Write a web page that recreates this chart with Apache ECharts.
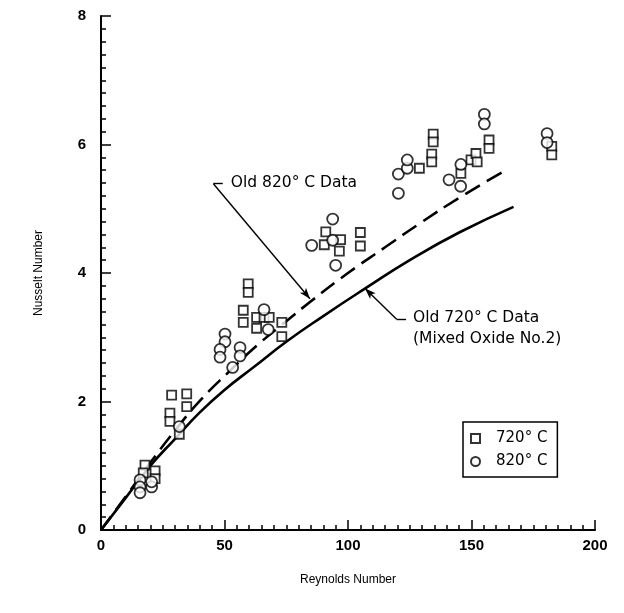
<!DOCTYPE html>
<html>
<head>
<meta charset="utf-8">
<script src="https://cdn.jsdelivr.net/npm/echarts@6/dist/echarts.min.js"></script>
<style>
  html, body { margin: 0; padding: 0; background: #fff; }
  #chart { width: 624px; height: 613px; }
</style>
</head>
<body>
<div id="chart"></div>
<script>
// Nusselt number versus Reynolds number, 720 °C and 820 °C test data
const xTicks = [0, 50, 100, 150, 200];
const yTicks = [0, 2, 4, 6, 8];
const xMinorStep = 5;
const yMinorStep = 0.2;

// 720 °C measurements (squares)
const data720 = [
  [17.8, 1.01], [17.1, 0.89], [21.9, 0.92], [21.9, 0.80],
  [28.6, 2.10], [34.7, 2.12], [34.7, 1.92], [27.9, 1.82], [27.9, 1.69], [31.7, 1.49],
  [59.6, 3.83], [59.6, 3.70], [57.6, 3.42], [57.6, 3.23], [63.0, 3.31], [66.0, 3.31],
  [68.1, 3.31], [63.0, 3.14], [73.2, 3.23], [73.2, 3.01],
  [91.0, 4.64], [90.4, 4.44], [97.0, 4.52], [96.5, 4.34], [105.0, 4.63], [105.0, 4.42],
  [128.9, 5.63], [134.5, 6.16], [134.5, 6.04], [133.9, 5.85], [133.9, 5.73],
  [145.7, 5.55], [149.8, 5.76], [151.8, 5.86], [152.3, 5.73], [157.1, 6.07], [157.1, 5.94],
  [182.5, 5.97], [182.5, 5.84]
];

// 820 °C measurements (circles)
const data820 = [
  [15.8, 0.78], [15.8, 0.67], [15.8, 0.58], [20.5, 0.67], [20.5, 0.75],
  [31.7, 1.61],
  [66.0, 3.43], [67.7, 3.12], [50.2, 3.05], [50.2, 2.93], [48.2, 2.81], [48.2, 2.69],
  [56.3, 2.84], [56.3, 2.71], [53.3, 2.53],
  [93.8, 4.84], [85.3, 4.43], [93.8, 4.51], [95.0, 4.12],
  [120.4, 5.54], [124.0, 5.63], [120.4, 5.24], [124.0, 5.76],
  [145.7, 5.69], [140.9, 5.45], [145.6, 5.35], [155.2, 6.47], [155.2, 6.32],
  [180.6, 6.17], [180.6, 6.03]
];

// Earlier correlations
const old720 = [
  [0, 0], [10, 0.5], [20, 1.0], [30, 1.42], [40, 1.83], [50, 2.18], [62, 2.54],
  [75, 2.93], [90, 3.33], [107, 3.76], [125, 4.2], [145, 4.63], [167, 5.03]
];
const old820 = [
  [0, 0], [10, 0.52], [20, 1.05], [30, 1.55], [40, 2.01], [52, 2.47], [64, 2.9],
  [75, 3.25], [85, 3.56], [100, 4.0], [115, 4.4], [129, 4.77], [145, 5.17], [163, 5.58]
];

// Callout leaders (data coordinates): corner, short tail end, arrow tip
const lead820 = { corner: [45.5, 5.39], tail: [49.3, 5.39], tip: [84.6, 3.6] };
const lead720 = { corner: [119.7, 3.28], tail: [123.5, 3.28], tip: [106.9, 3.76] };

const label820 = ['Old 820° C Data'];
const label720 = ['Old 720° C Data', '(Mixed Oxide No.2)'];

const chart = echarts.init(document.getElementById('chart'), null, { renderer: 'canvas' });

const tickFont = { fontFamily: 'Liberation Sans', fontWeight: 'bold', fontSize: 15, color: '#000' };
const nameFont = { fontFamily: 'Liberation Sans', fontSize: 12, color: '#000' };
const annFont = 'DejaVu Sans';

const leaderStyle = { color: '#000', width: 1.4, type: 'solid' };

function leader(l) {
  return [
    [{ coord: l.corner, symbol: 'none' }, { coord: l.tip, symbol: 'arrow', symbolSize: [6, 11] }],
    [{ coord: l.corner, symbol: 'none' }, { coord: l.tail, symbol: 'none' }]
  ];
}

// Companion axis that only carries the short minor ticks
function minorAxis(ticks, step, position) {
  return {
    type: 'value', min: ticks[0], max: ticks[ticks.length - 1], interval: step,
    position: position, offset: 0,
    axisLine: { show: false },
    axisTick: { show: true, inside: true, length: 5, lineStyle: { color: '#000', width: 1.5 } },
    axisLabel: { show: false },
    splitLine: { show: false }
  };
}

chart.setOption({
  animation: false,
  backgroundColor: '#fff',
  grid: { left: 101, right: 29, top: 16, bottom: 83 },
  xAxis: [{
    type: 'value', min: xTicks[0], max: xTicks[xTicks.length - 1], interval: 50,
    position: 'bottom',
    name: 'Reynolds Number', nameLocation: 'middle', nameGap: 44, nameTextStyle: nameFont,
    axisLine: { lineStyle: { color: '#000', width: 2 } },
    axisTick: { inside: true, length: 10, lineStyle: { color: '#000', width: 1.5 } },
    axisLabel: Object.assign({ margin: 8 }, tickFont),
    splitLine: { show: false }
  }, minorAxis(xTicks, xMinorStep, 'bottom')],
  yAxis: [{
    type: 'value', min: yTicks[0], max: yTicks[yTicks.length - 1], interval: 2,
    position: 'left',
    name: 'Nusselt Number', nameLocation: 'middle', nameGap: 56, nameTextStyle: nameFont,
    axisLine: { lineStyle: { color: '#000', width: 2 } },
    axisTick: { inside: true, length: 10, lineStyle: { color: '#000', width: 1.5 } },
    axisLabel: Object.assign({ margin: 15 }, tickFont),
    splitLine: { show: false }
  }, minorAxis(yTicks, yMinorStep, 'left')],
  legend: {
    orient: 'vertical', left: 463, top: 422,
    data: [{ name: '720° C', icon: 'rect' }, { name: '820° C', icon: 'circle' }],
    borderColor: '#000', borderWidth: 1.5, borderRadius: 0,
    padding: [9, 10, 8, 7], itemGap: 8,
    itemWidth: 9, itemHeight: 9,
    textStyle: { fontFamily: annFont, fontSize: 15, color: '#000', padding: [0, 0, 0, 11] },
    selectedMode: false
  },
  series: [
    {
      name: 'Old 720° C Data', type: 'line', data: old720, smooth: true, showSymbol: false,
      lineStyle: { color: '#000', width: 2.6 }, z: 2, silent: true,
      markLine: { silent: true, animation: false, label: { show: false }, lineStyle: leaderStyle, data: leader(lead720) }
    },
    {
      name: 'Old 820° C Data', type: 'line', data: old820, smooth: true, showSymbol: false,
      lineStyle: { color: '#000', width: 2.6, type: [17, 8] }, z: 2, silent: true,
      markLine: { silent: true, animation: false, label: { show: false }, lineStyle: leaderStyle, data: leader(lead820) }
    },
    {
      name: '720° C', type: 'scatter', data: data720, symbol: 'rect', symbolSize: 9,
      itemStyle: { color: '#fff', borderColor: '#000', borderWidth: 1.8 }, z: 3
    },
    {
      name: '820° C', type: 'scatter', data: data820, symbol: 'circle', symbolSize: 11,
      itemStyle: { color: '#fff', borderColor: '#000', borderWidth: 1.8 }, z: 3
    }
  ]
});

// Callout texts placed beside the leader tails
function textAt(lines, anchor, dx) {
  const p = chart.convertToPixel({ xAxisIndex: 0, yAxisIndex: 0 }, anchor);
  return lines.map((t, i) => ({
    type: 'text', left: p[0] + dx, top: p[1] - 9 + i * 21,
    style: { text: t, font: '15.5px "' + annFont + '"', fill: '#000' }
  }));
}
chart.setOption({
  graphic: [].concat(textAt(label820, lead820.tail, 8), textAt(label720, lead720.tail, 7))
});
</script>
</body>
</html>
